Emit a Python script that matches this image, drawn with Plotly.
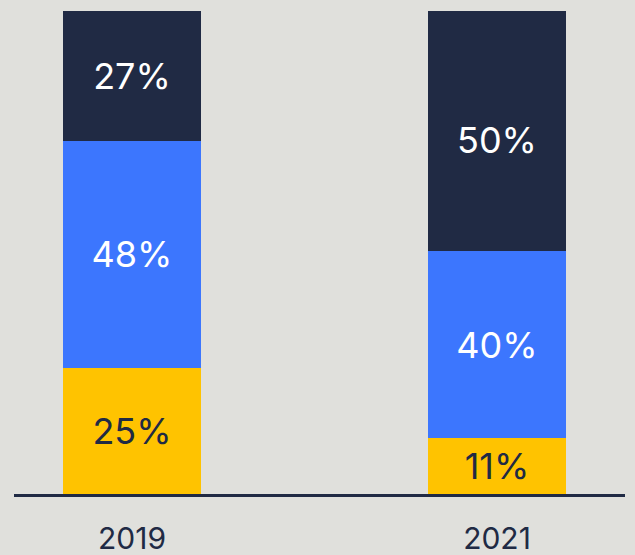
import plotly.graph_objects as go

years = ["2019", "2021"]
x_pos = [0, 1]
# segment shares as measured from bar heights
bottom_vals = [26.1, 11.6]
middle_vals = [47.0, 38.7]
top_vals = [26.9, 49.7]
# printed labels
bottom_labels = ["25%", "11%"]
middle_labels = ["48%", "40%"]
top_labels = ["27%", "50%"]

BG = "#e0e0dc"
NAVY = "#202a44"
BLUE = "#3c76fe"
YELLOW = "#ffc300"

fig = go.Figure()
for name, vals, labels, color, tcolor in [
        ("bottom", bottom_vals, bottom_labels, YELLOW, NAVY),
        ("middle", middle_vals, middle_labels, BLUE, "white"),
        ("top", top_vals, top_labels, NAVY, "white")]:
    texts = list(labels)
    if name == "top":
        texts[1] = ""
    fig.add_trace(go.Bar(
        x=x_pos, y=vals, width=0.378,
        marker=dict(color=color, line=dict(width=0)),
        text=texts, textposition="inside",
        insidetextanchor="middle", textangle=0,
        textfont=dict(family="Inter", size=36, color=tcolor),
        hoverinfo="skip",
    ))

# 2021 top label, placed at normalized segment centre, nudged down as in the reference
tot21 = bottom_vals[1] + middle_vals[1] + top_vals[1]
ctr = (bottom_vals[1] + middle_vals[1] + top_vals[1] / 2) / tot21 * 100
fig.add_annotation(x=x_pos[1], y=ctr, xref="x", yref="y", text=top_labels[1],
                   showarrow=False, yshift=-9,
                   font=dict(family="Inter", size=36, color="white"))

fig.update_layout(
    barmode="stack", barnorm="percent", width=635, height=555,
    margin=dict(l=14, r=10, t=0, b=61, autoexpand=False),
    paper_bgcolor=BG, plot_bgcolor=BG,
    showlegend=False,
    uniformtext=dict(minsize=36, mode="show"),
)
fig.update_xaxes(range=[-0.3233, 1.3507], tickvals=x_pos, ticktext=years, automargin=False,
                 showgrid=False, zeroline=False, showline=True, linecolor=NAVY, linewidth=3,
                 ticks="", tickfont=dict(family="Inter", size=30, color=NAVY), ticklabelstandoff=16)
fig.update_yaxes(range=[0, 102.28], visible=False, showgrid=False, zeroline=False, automargin=False)

fig.write_html("out.html")
